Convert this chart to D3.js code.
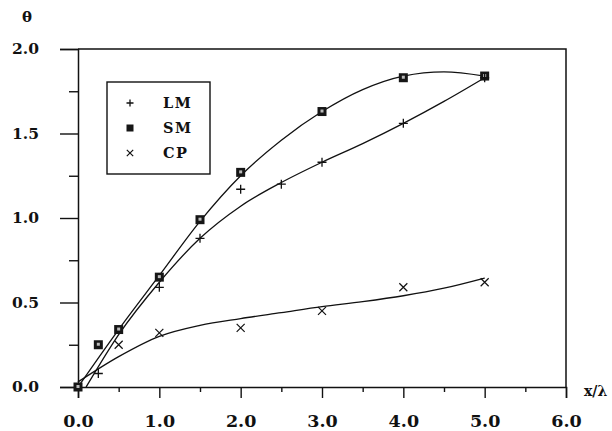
<!DOCTYPE html>
<html>
<head>
<meta charset="utf-8">
<script src="https://cdn.jsdelivr.net/npm/d3@7"></script>
<style>
  body { margin: 0; background: #fff; }
  svg { display: block; }
  text { font-family: "DejaVu Serif", serif; font-weight: bold; fill: #111; }
</style>
</head>
<body>
<div id="chart"></div>
<script>
// measured points
var lmX = [0.25, 1.0, 1.5, 2.0, 2.5, 3.0, 4.0, 5.0];
var lmY = [0.08, 0.59, 0.88, 1.17, 1.20, 1.33, 1.56, 1.83];
var smX = [0, 0.25, 0.5, 1.0, 1.5, 2.0, 3.0, 4.0, 5.0];
var smY = [0, 0.25, 0.34, 0.65, 0.99, 1.27, 1.63, 1.83, 1.84];
var cpX = [0.5, 1.0, 2.0, 3.0, 4.0, 5.0];
var cpY = [0.25, 0.32, 0.35, 0.45, 0.59, 0.62];

// fitted curves
var lmFitX = [0.1, 0.5, 1.0, 1.5, 2.0, 2.5, 3.0, 3.5, 4.0, 4.5, 5.0];
var lmFitY = [0, 0.31, 0.62, 0.88, 1.07, 1.21, 1.33, 1.44, 1.56, 1.69, 1.83];
var smFitX = [0, 0.5, 1.0, 1.5, 2.0, 2.5, 3.0, 3.5, 4.0, 4.5, 5.0];
var smFitY = [0, 0.34, 0.66, 0.98, 1.25, 1.46, 1.63, 1.76, 1.84, 1.865, 1.84];
var cpFitX = [0, 0.5, 1.0, 1.5, 2.0, 2.5, 3.0, 3.5, 4.0, 4.5, 5.0];
var cpFitY = [0.03, 0.18, 0.30, 0.365, 0.405, 0.44, 0.475, 0.505, 0.54, 0.585, 0.645];

var xMajor = [0, 1, 2, 3, 4, 5, 6];
var xMinor = [0.5, 1.5, 2.5, 3.5, 4.5, 5.5];
var yMajor = [0, 0.5, 1.0, 1.5, 2.0];
var yMinor = [0.25, 0.75, 1.25, 1.75];
var legendNames = ["LM", "SM", "CP"];

var width = 612, height = 431;
var margin = {top: 49, right: 46, bottom: 44, left: 78};

var svg = d3.select('#chart').append('svg')
    .attr('width', width)
    .attr('height', height);

svg.append('rect').attr('width', width).attr('height', height).attr('fill', '#fff');

var x = d3.scaleLinear().domain([0, 6]).range([margin.left, width - margin.right]);
var y = d3.scaleLinear().domain([0, 2]).range([height - margin.bottom, margin.top]);

var fmt = d3.format(".1f");

// frame top + right
svg.append('path')
    .attr('d', 'M' + x(0) + ',' + y(2) + 'H' + x(6) + 'V' + y(0))
    .attr('fill', 'none').attr('stroke', '#111').attr('stroke-width', 1.5);

// axes
var gx = svg.append('g')
    .attr('transform', 'translate(0,' + y(0) + ')')
    .call(d3.axisBottom(x).tickValues(xMajor).tickSize(11).tickPadding(17).tickFormat(fmt));
svg.append('g')
    .attr('transform', 'translate(0,' + y(0) + ')')
    .call(d3.axisBottom(x).tickValues(xMinor).tickSize(5).tickFormat(''))
    .select('.domain').remove();

var gy = svg.append('g')
    .attr('transform', 'translate(' + x(0) + ',0)')
    .call(d3.axisLeft(y).tickValues(yMajor).tickSize(18).tickPadding(21).tickFormat(fmt));
svg.append('g')
    .attr('transform', 'translate(' + x(0) + ',0)')
    .call(d3.axisLeft(y).tickValues(yMinor).tickSize(9).tickFormat(''))
    .select('.domain').remove();

svg.selectAll('.domain').attr('stroke', '#111').attr('stroke-width', 1.5);
svg.selectAll('.tick line').attr('stroke', '#111').attr('stroke-width', 1.4);
gx.selectAll('.tick text').attr('font-size', 17.5).attr('font-family', '"DejaVu Serif", serif').attr('font-weight', 'bold').attr('fill', '#111');
gy.selectAll('.tick text').attr('font-size', 15.5).attr('font-family', '"DejaVu Serif", serif').attr('font-weight', 'bold').attr('fill', '#111');

// axis titles
svg.append('text').attr('x', 22).attr('y', 22).attr('font-size', 15).text('θ');
svg.append('text').attr('x', 584).attr('y', 396).attr('font-size', 14).text('x/λ');

// fitted curves
var line = d3.line()
    .x(function(d) { return x(d[0]); })
    .y(function(d) { return y(d[1]); })
    .curve(d3.curveMonotoneX);

function pairs(xs, ys) { return xs.map(function(v, i) { return [v, ys[i]]; }); }

[[lmFitX, lmFitY], [smFitX, smFitY], [cpFitX, cpFitY]].forEach(function(f) {
  svg.append('path')
      .datum(pairs(f[0], f[1]))
      .attr('d', line)
      .attr('fill', 'none')
      .attr('stroke', '#111')
      .attr('stroke-width', 1.3);
});

// markers
function plus(g, s) {
  g.append('path').attr('d', 'M' + (-s) + ',0H' + s + 'M0,' + (-s) + 'V' + s)
    .attr('stroke', '#111').attr('stroke-width', 1.3).attr('fill', 'none');
}
function cross(g, s) {
  g.append('path').attr('d', 'M' + (-s) + ',' + (-s) + 'L' + s + ',' + s + 'M' + (-s) + ',' + s + 'L' + s + ',' + (-s))
    .attr('stroke', '#111').attr('stroke-width', 1.2).attr('fill', 'none');
}
function square(g, s, dot) {
  g.append('rect').attr('x', -s).attr('y', -s).attr('width', 2 * s).attr('height', 2 * s)
    .attr('fill', '#161616');
  if (dot) g.append('rect').attr('x', -1.5).attr('y', -2).attr('width', 3).attr('height', 3).attr('fill', '#bbb');
}

function drawPoints(xs, ys, fn) {
  svg.append('g').selectAll('g')
      .data(pairs(xs, ys))
      .enter().append('g')
      .attr('transform', function(d) { return 'translate(' + x(d[0]) + ',' + y(d[1]) + ')'; })
      .each(function() { fn(d3.select(this)); });
}

drawPoints(smX, smY, function(g) { square(g, 4.5, true); });
drawPoints(lmX, lmY, function(g) { plus(g, 4.5); });
drawPoints(cpX, cpY, function(g) { cross(g, 4); });

// legend
var lg = svg.append('g').attr('transform', 'translate(107,82)');
lg.append('rect').attr('width', 103).attr('height', 92)
    .attr('fill', '#fff').attr('stroke', '#111').attr('stroke-width', 1.4);
var markFns = [
  function(g) { plus(g, 3.5); },
  function(g) { square(g, 3.5, false); },
  function(g) { cross(g, 3.2); }
];
legendNames.forEach(function(name, i) {
  var row = lg.append('g').attr('transform', 'translate(0,' + (21 + i * 25) + ')');
  markFns[i](row.append('g').attr('transform', 'translate(23,0)'));
  row.append('text').attr('x', 56).attr('y', 4.5).attr('font-size', 14.5)
      .attr('letter-spacing', 1.5).text(name);
});
</script>
</body>
</html>
